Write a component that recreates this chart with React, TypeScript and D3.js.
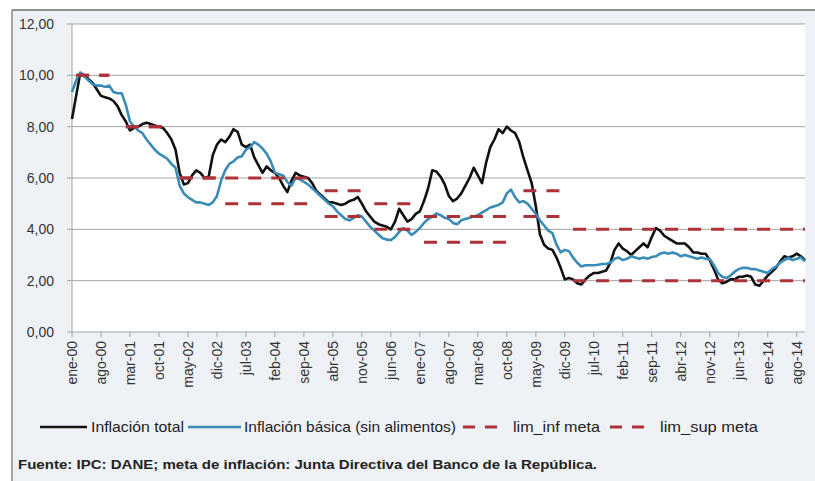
import React from "react";
import * as d3 from "d3";

const monthNames = ["ene", "feb", "mar", "abr", "may", "jun", "jul", "ago", "sep", "oct", "nov", "dic"];
const years = ["00", "01", "02", "03", "04", "05", "06", "07", "08", "09", "10", "11", "12", "13", "14"];

// Inflación total (anual, %), mensual ene-00 .. oct-14
const total2000 = [8.3, 9.2, 10.1, 10.0, 9.85, 9.7, 9.45, 9.2, 9.15, 9.1, 9.0, 8.8];
const total2001 = [8.45, 8.2, 7.85, 7.95, 8.0, 8.1, 8.15, 8.1, 8.05, 8.0, 7.95, 7.75];
const total2002 = [7.5, 7.1, 6.2, 5.75, 5.8, 6.1, 6.3, 6.2, 6.0, 6.05, 6.9, 7.3];
const total2003 = [7.5, 7.4, 7.6, 7.9, 7.8, 7.3, 7.2, 7.3, 6.8, 6.5, 6.2, 6.45];
const total2004 = [6.3, 6.2, 6.0, 5.7, 5.45, 5.9, 6.2, 6.1, 6.05, 6.0, 5.8, 5.5];
const total2005 = [5.35, 5.2, 5.05, 5.05, 5.0, 4.95, 5.0, 5.1, 5.15, 5.26, 5.0, 4.7];
const total2006 = [4.5, 4.3, 4.2, 4.15, 4.1, 4.0, 4.3, 4.8, 4.55, 4.3, 4.4, 4.6];
const total2007 = [4.7, 5.1, 5.6, 6.3, 6.25, 6.05, 5.75, 5.3, 5.1, 5.2, 5.4, 5.7];
const total2008 = [6.0, 6.4, 6.1, 5.8, 6.6, 7.2, 7.5, 7.9, 7.75, 8.0, 7.85, 7.75];
const total2009 = [7.4, 6.8, 6.3, 5.8, 4.9, 3.8, 3.4, 3.25, 3.2, 2.9, 2.5, 2.05];
const total2010 = [2.1, 2.05, 1.9, 1.85, 2.05, 2.2, 2.3, 2.3, 2.35, 2.4, 2.7, 3.2];
const total2011 = [3.45, 3.25, 3.15, 3.0, 3.15, 3.3, 3.45, 3.3, 3.7, 4.05, 3.95, 3.75];
const total2012 = [3.65, 3.55, 3.45, 3.45, 3.45, 3.3, 3.1, 3.1, 3.05, 3.05, 2.8, 2.45];
const total2013 = [2.05, 1.9, 1.95, 2.05, 2.05, 2.15, 2.15, 2.2, 2.15, 1.85, 1.8, 2.0];
const total2014 = [2.2, 2.35, 2.5, 2.75, 2.95, 2.9, 2.95, 3.05, 2.95, 2.8];

// Inflación básica (sin alimentos)
const basica2000 = [9.35, 9.8, 10.1, 9.95, 9.8, 9.65, 9.6, 9.6, 9.55, 9.6, 9.35, 9.3];
const basica2001 = [9.3, 8.85, 8.2, 8.0, 7.85, 7.75, 7.5, 7.3, 7.1, 6.95, 6.85, 6.75];
const basica2002 = [6.55, 6.4, 5.7, 5.4, 5.25, 5.15, 5.05, 5.05, 5.0, 4.95, 5.05, 5.3];
const basica2003 = [5.9, 6.3, 6.55, 6.65, 6.8, 6.85, 7.1, 7.2, 7.4, 7.3, 7.15, 6.95];
const basica2004 = [6.65, 6.2, 6.15, 6.1, 5.85, 5.7, 6.0, 5.95, 5.85, 5.75, 5.6, 5.45];
const basica2005 = [5.3, 5.15, 5.0, 4.9, 4.7, 4.55, 4.4, 4.35, 4.45, 4.55, 4.5, 4.3];
const basica2006 = [4.1, 3.95, 3.8, 3.65, 3.6, 3.58, 3.7, 3.9, 4.05, 3.95, 3.78, 3.9];
const basica2007 = [4.05, 4.25, 4.4, 4.5, 4.62, 4.55, 4.45, 4.4, 4.25, 4.2, 4.35, 4.4];
const basica2008 = [4.45, 4.5, 4.55, 4.65, 4.75, 4.85, 4.9, 4.95, 5.05, 5.4, 5.55, 5.25];
const basica2009 = [5.05, 5.1, 5.0, 4.8, 4.6, 4.35, 4.15, 3.95, 3.85, 3.4, 3.1, 3.2];
const basica2010 = [3.15, 2.9, 2.7, 2.55, 2.6, 2.6, 2.6, 2.62, 2.65, 2.65, 2.7, 2.85];
const basica2011 = [2.9, 2.8, 2.85, 2.95, 2.9, 2.85, 2.9, 2.85, 2.92, 2.95, 3.05, 3.1];
const basica2012 = [3.05, 3.1, 3.05, 2.95, 3.0, 2.95, 2.9, 2.85, 2.9, 2.85, 2.85, 2.6];
const basica2013 = [2.3, 2.15, 2.1, 2.2, 2.35, 2.45, 2.5, 2.5, 2.45, 2.45, 2.4, 2.35];
const basica2014 = [2.3, 2.45, 2.55, 2.7, 2.8, 2.9, 2.8, 2.85, 2.9, 2.75];

// Meta de inflación: tramos (mes inicial, mes final, límite inferior, límite superior)
const metaStart = ["feb-00", "feb-01", "mar-02", "feb-03", "feb-05", "feb-06", "feb-07", "feb-09", "feb-10"];
const metaEnd = ["oct-00", "nov-01", "dic-02", "nov-04", "nov-05", "dic-06", "nov-08", "nov-09", "oct-14"];
const limInf = [10, 8, 6, 5, 4.5, 4, 3.5, 4.5, 2];
const limSup = [10, 8, 6, 6, 5.5, 5, 4.5, 5.5, 4];

const yTicks = [0, 2, 4, 6, 8, 10, 12];

const totalSeries = [
  ...total2000, ...total2001, ...total2002, ...total2003, ...total2004,
  ...total2005, ...total2006, ...total2007, ...total2008, ...total2009,
  ...total2010, ...total2011, ...total2012, ...total2013, ...total2014,
];
const basicaSeries = [
  ...basica2000, ...basica2001, ...basica2002, ...basica2003, ...basica2004,
  ...basica2005, ...basica2006, ...basica2007, ...basica2008, ...basica2009,
  ...basica2010, ...basica2011, ...basica2012, ...basica2013, ...basica2014,
];

const categories: string[] = [];
years.forEach((yy) => monthNames.forEach((m) => categories.push(`${m}-${yy}`)));
categories.length = totalSeries.length;
const tickLabels = categories.filter((_, i) => i % 7 === 0);

const W = 815;
const H = 481;
const plot = { left: 72, right: 805, top: 24, bottom: 332 };

const BLACK = "#111111";
const BLUE = "#3a8cb8";
const RED = "#ad3238";
const FONT = "'Liberation Sans', Arial, sans-serif";

export default function App() {
  const x = d3.scalePoint<string>().domain(categories).range([plot.left, plot.right]).padding(0);
  const y = d3.scaleLinear().domain([0, 12]).range([plot.bottom, plot.top]);
  const line = d3
    .line<number>()
    .x((_, i) => x(categories[i]) as number)
    .y((d) => y(d));

  const seg = (a: string, b: string, v: number) =>
    d3.line<string>().x((c) => x(c) as number).y(() => y(v))([a, b]) as string;

  return (
    <svg width={W} height={H} style={{ position: "absolute", left: 0, top: 0, background: "#ffffff" }}>
      {/* chart frame */}
      <rect x={12} y={10} width={W - 12} height={H - 10} fill="#eef1f5" />
      <line x1={12} y1={10} x2={W} y2={10} stroke="#6e6e6e" strokeWidth={1.5} />
      <line x1={12} y1={10} x2={12} y2={H} stroke="#8a8a8a" strokeWidth={1.5} />
      {/* plot area */}
      <rect x={plot.left} y={plot.top} width={plot.right - plot.left} height={plot.bottom - plot.top} fill="#ffffff" />

      {/* gridlines and y labels */}
      {yTicks.map((t) => (
        <g key={t}>
          <line x1={plot.left - 5} x2={plot.right} y1={y(t)} y2={y(t)} stroke="#a3a3a3" strokeWidth={1} />
          <text x={54} y={y(t)} dy="0.35em" textAnchor="end" fontFamily={FONT} fontSize={14} fill="#333">
            {d3.format(".2f")(t).replace(".", ",")}
          </text>
        </g>
      ))}
      <line x1={plot.left} x2={plot.left} y1={plot.top} y2={plot.bottom} stroke="#a3a3a3" strokeWidth={1} />

      {/* x ticks and labels */}
      {tickLabels.map((c) => {
        const px = x(c) as number;
        return (
          <g key={c}>
            <line x1={px} x2={px} y1={plot.bottom} y2={plot.bottom + 5} stroke="#a3a3a3" strokeWidth={1} />
            <text
              transform={`translate(${px},${plot.bottom + 9}) rotate(-90)`}
              dy="0.35em"
              textAnchor="end"
              fontFamily={FONT}
              fontSize={14}
              fill="#333"
            >
              {c}
            </text>
          </g>
        );
      })}

      {/* series */}
      <path d={line(totalSeries) as string} fill="none" stroke={BLACK} strokeWidth={2.6} strokeLinejoin="round" />
      <path d={line(basicaSeries) as string} fill="none" stroke={BLUE} strokeWidth={2.6} strokeLinejoin="round" />
      {metaStart.map((s, i) => (
        <g key={s}>
          <path d={seg(s, metaEnd[i], limInf[i])} fill="none" stroke={RED} strokeWidth={3} strokeDasharray="13 10" />
          <path d={seg(s, metaEnd[i], limSup[i])} fill="none" stroke={RED} strokeWidth={3} strokeDasharray="13 10" />
        </g>
      ))}

      {/* legend */}
      <g fontFamily={FONT} fontSize={15} fill="#222">
        <line x1={40} x2={87} y1={427} y2={427} stroke={BLACK} strokeWidth={2.6} />
        <text x={91} y={427} dy="0.35em" textLength={93} lengthAdjust="spacingAndGlyphs">Inflación total</text>
        <line x1={188} x2={241} y1={427} y2={427} stroke={BLUE} strokeWidth={2.6} />
        <text x={244} y={427} dy="0.35em" textLength={212} lengthAdjust="spacingAndGlyphs">Inflación básica (sin alimentos)</text>
        <line x1={463} x2={498} y1={427} y2={427} stroke={RED} strokeWidth={3} strokeDasharray="12 10" />
        <text x={513} y={427} dy="0.35em" textLength={87} lengthAdjust="spacingAndGlyphs">lim_inf meta</text>
        <line x1={610} x2={645} y1={427} y2={427} stroke={RED} strokeWidth={3} strokeDasharray="12 10" />
        <text x={660} y={427} dy="0.35em" textLength={98} lengthAdjust="spacingAndGlyphs">lim_sup meta</text>
      </g>

      {/* source */}
      <text x={18} y={464} dy="0.35em" fontFamily={FONT} fontSize={13} fontWeight="bold" fill="#222" textLength={579} lengthAdjust="spacingAndGlyphs">
        Fuente: IPC: DANE; meta de inflación: Junta Directiva del Banco de la República.
      </text>
    </svg>
  );
}
